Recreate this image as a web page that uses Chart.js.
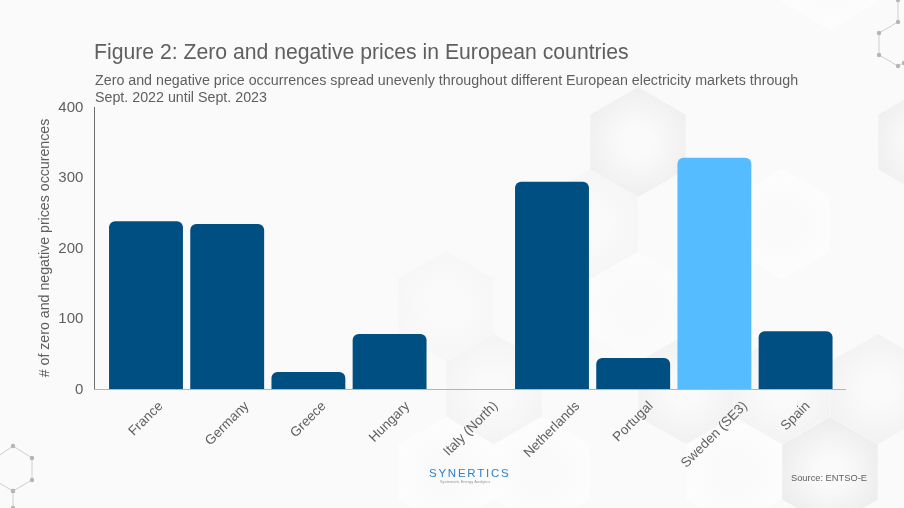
<!DOCTYPE html>
<html>
<head>
<meta charset="utf-8">
<script src="https://cdn.jsdelivr.net/npm/chart.js@4"></script>
<style>
    html, body { margin: 0; padding: 0; background: #fafafa; }
    #wrap { position: relative; width: 904px; height: 508px; overflow: hidden; font-family: "Liberation Sans", Arial, sans-serif; }
    #wrap canvas { position: absolute; left: 0; top: 0; }
    .txt { position: absolute; color: #5f5f5f; white-space: nowrap; }
    #title { left: 94px; top: 39px; font-size: 21.2px; line-height: 26px; }
    #subtitle { left: 95px; top: 72px; font-size: 14.25px; line-height: 17px; }
    #source { left: 791px; top: 472px; font-size: 9.3px; line-height: 12px; }
    #logo { left: 429px; top: 467px; font-size: 11.5px; line-height: 13px; letter-spacing: 1.75px; color: #2f80c6; }
    #logoSub { left: 440px; top: 479px; font-size: 4px; line-height: 5px; color: #999; }
</style>
</head>
<body>
<div id="wrap">
    <canvas id="chart" width="904" height="508"></canvas>
    <div class="txt" id="title">Figure 2: Zero and negative prices in European countries</div>
    <div class="txt" id="subtitle">Zero and negative price occurrences spread unevenly throughout different European electricity markets through<br>Sept. 2022 until Sept. 2023</div>
    <div class="txt" id="source">Source: ENTSO-E</div>
    <div class="txt" id="logo">SYNERTICS</div>
    <div class="txt" id="logoSub">Systematic Energy Analytics</div>
</div>
<script>
const countries = ["France", "Germany", "Greece", "Hungary", "Italy (North)", "Netherlands", "Portugal", "Sweden (SE3)", "Spain"];
const occurrences = [238, 234, 24, 78, 0, 294, 44, 328, 82];
const barColors = ["#004f82", "#004f82", "#004f82", "#004f82", "#004f82", "#004f82", "#004f82", "#55bcff", "#004f82"];
const yTicks = [0, 100, 200, 300, 400];

const textColor = "#5f5f5f";

// background hexagons: centre x, centre y, edge shade
const hexes = [
    [638, 142, "#eeeeee"], [926, 142, "#eeeeee"], [830, -25, "#fdfdfd"],
    [686, 389, "#f0f0f0"], [782, 389, "#f2f2f2"], [494, 389, "#f3f3f3"], [830, 472, "#ebebeb"],
    [446, 306, "#f6f6f6"], [638, 307, "#fcfcfc"], [782, 224, "#fdfdfd"], [590, 224, "#f5f5f5"],
    [446, 472, "#fdfdfd"], [542, 472, "#fdfdfd"], [734, 472, "#fdfdfd"], [878, 389, "#f1f1f1"]
];

function hexPath(ctx, cx, cy) {
    ctx.beginPath();
    for (let i = 0; i < 6; i++) {
        let a = Math.PI / 3 * i - Math.PI / 2;
        ctx.lineTo(cx + 55 * Math.cos(a), cy + 55 * Math.sin(a));
    }
    ctx.closePath();
}

function drawNodes(ctx, points) {
    ctx.strokeStyle = "#cfcfcf";
    ctx.lineWidth = 1;
    ctx.beginPath();
    points.forEach(p => ctx.lineTo(p[0], p[1]));
    ctx.stroke();
    ctx.fillStyle = "#b5b5b5";
    points.forEach(p => {
        ctx.beginPath();
        ctx.arc(p[0], p[1], 2.2, 0, Math.PI * 2);
        ctx.fill();
    });
}

const backdropPlugin = {
    id: "backdrop",
    beforeDraw(chart) {
        const ctx = chart.ctx;
        ctx.save();
        ctx.fillStyle = "#fafafa";
        ctx.fillRect(0, 0, 904, 508);
        hexes.forEach(h => {
            const grad = ctx.createRadialGradient(h[0], h[1], 15, h[0], h[1], 58);
            grad.addColorStop(0, "#fafafa");
            grad.addColorStop(1, h[2]);
            ctx.fillStyle = grad;
            hexPath(ctx, h[0], h[1]);
            ctx.fill();
        });
        drawNodes(ctx, [[-6, 459], [13, 446], [32, 458], [32, 480], [13, 491], [-6, 480]]);
        drawNodes(ctx, [[13, 491], [13, 508]]);
        drawNodes(ctx, [[898, 0], [898, 22], [879, 33], [879, 55], [898, 66], [904, 63]]);

        // rotated x labels are centred under each bar, y labels sit a little lower
        ctx.font = "13.5px 'Liberation Sans'";
        chart.scales.x.getLabelItems().forEach((item, i) => {
            const half = ctx.measureText(item.label).width / 2;
            item.options.textAlign = "center";
            item.options.textBaseline = "middle";
            item.options.translation[0] = chart.scales.x.getPixelForTick(i);
            item.options.translation[1] = 404 + half * Math.SQRT1_2;
            item.textOffset = 0;
        });
        chart.scales.y.getLabelItems().forEach(item => {
            item.options.textBaseline = "middle";
            item.options.translation[1] = chart.scales.y.getPixelForValue(Number(item.label)) + 0.5;
            item.textOffset = 0;
        });
        ctx.restore();
    }
};

// axis lines sit a bit outside the bars
const axisPlugin = {
    id: "axisLines",
    beforeDatasetsDraw(chart) {
        const ctx = chart.ctx, y = chart.scales.y;
        ctx.save();
        ctx.lineWidth = 1;
        ctx.strokeStyle = "#6e6e6e";
        ctx.beginPath();
        ctx.moveTo(94.5, y.getPixelForValue(400));
        ctx.lineTo(94.5, y.getPixelForValue(0));
        ctx.stroke();
        ctx.strokeStyle = "#b4b4b4";
        ctx.beginPath();
        ctx.moveTo(94, y.getPixelForValue(0) + 0.5);
        ctx.lineTo(846, y.getPixelForValue(0) + 0.5);
        ctx.stroke();
        ctx.restore();
    }
};

new Chart(document.getElementById("chart").getContext("2d"), {
    type: "bar",
    data: {
        labels: countries,
        datasets: [{
            data: occurrences,
            backgroundColor: barColors,
            borderRadius: { topLeft: 6, topRight: 6, bottomLeft: 0, bottomRight: 0 },
            categoryPercentage: 1,
            barPercentage: 0.91
        }]
    },
    options: {
        responsive: false,
        animation: false,
        layout: { padding: { left: 37, right: 67.8, top: 107, bottom: 0 } },
        plugins: { legend: { display: false }, tooltip: { enabled: false } },
        scales: {
            x: {
                grid: { display: false },
                border: { display: false },
                ticks: {
                    autoSkip: false, maxRotation: 45, minRotation: 45,
                    color: textColor, font: { family: "Liberation Sans", size: 13.5 }
                },
                afterFit(scale) { scale.height = 119; }
            },
            y: {
                min: 0,
                max: 400,
                afterBuildTicks(scale) { scale.ticks = yTicks.map(v => ({ value: v })); },
                grid: { display: false, drawTicks: false },
                border: { display: false },
                ticks: { color: textColor, padding: 22, font: { family: "Liberation Sans", size: 15 } },
                title: {
                    display: true,
                    text: "# of zero and negative prices occurences",
                    color: textColor,
                    padding: 0,
                    font: { family: "Liberation Sans", size: 14.2 }
                },
                afterFit(scale) { scale.width = 68.4; }
            }
        }
    },
    plugins: [backdropPlugin, axisPlugin]
});
</script>
</body>
</html>
